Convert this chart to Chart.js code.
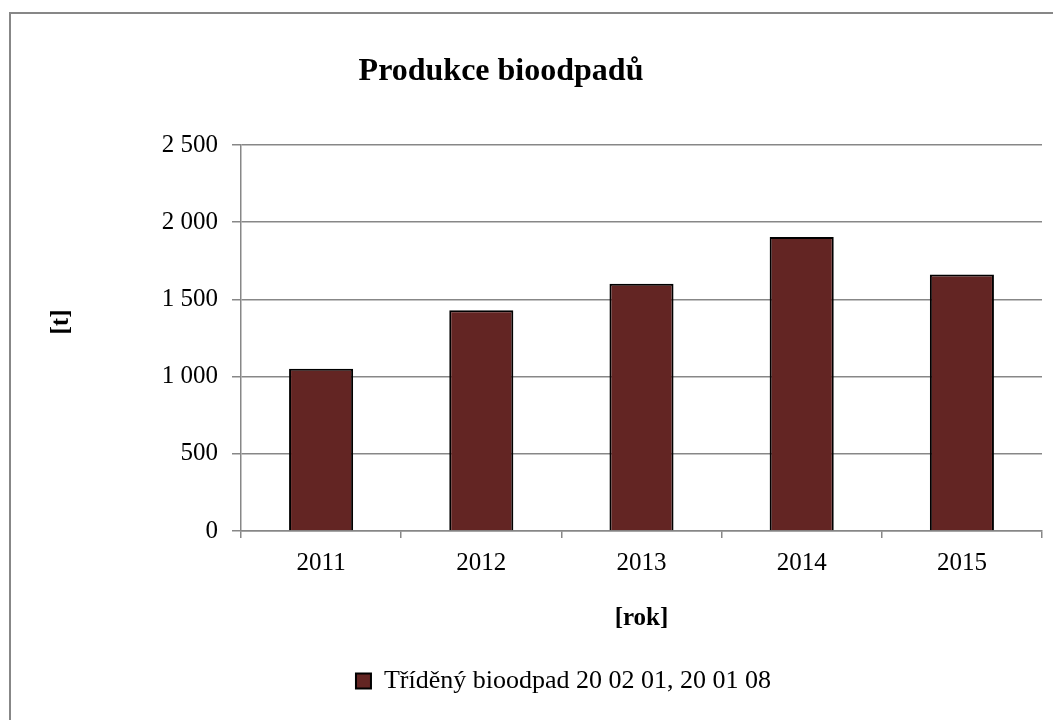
<!DOCTYPE html>
<html>
<head>
<meta charset="utf-8">
<script src="https://cdn.jsdelivr.net/npm/chart.js@4"></script>
<style>
  html, body { margin: 0; padding: 0; background: #fff; overflow: hidden; }
  #wrap { position: relative; width: 1053px; height: 720px; }
  #frame { position: absolute; left: 9px; top: 12px; width: 1200px; height: 900px; border: 2px solid #878787; }
  #myChart { position: absolute; left: 0; top: 0; }
</style>
</head>
<body>
<div id="wrap">
  <div id="frame"></div>
  <canvas id="myChart" width="1053" height="720"></canvas>
</div>
<script>
const years = ["2011", "2012", "2013", "2014", "2015"];
const bioWaste = [1051, 1429, 1602, 1904, 1662];
const seriesName = "Tříděný bioodpad 20 02 01, 20 01 08";
const chartTitle = "Produkce bioodpadů";
const yLabel = "[t]";
const xLabel = "[rok]";

const serif = "'Liberation Serif', 'Times New Roman', serif";
const gridGray = "#878787";

// title and y label are drawn by hand, the original puts them off-centre
const textPlugin = {
  id: "textPlugin",
  afterDraw(chart) {
    const c = chart.ctx;
    c.save();
    c.fillStyle = "#000";
    c.font = "bold 32px " + serif;
    c.textAlign = "center";
    c.textBaseline = "alphabetic";
    c.fillText(chartTitle, 501, 80);
    c.translate(62, 322);
    c.rotate(-Math.PI / 2);
    c.font = "bold 25px " + serif;
    c.textBaseline = "middle";
    c.fillText(yLabel, 0, 0);
    c.restore();
  },
};

const ctx = document.getElementById("myChart");
const myChart = new Chart(ctx, {
  type: "bar",
  data: {
    labels: years,
    datasets: [
      {
        label: seriesName,
        data: bioWaste,
        backgroundColor: "#632523",
        borderColor: "#000",
        borderWidth: 2,
        categoryPercentage: 0.5,
        barPercentage: 0.8,
      },
    ],
  },
  options: {
    responsive: false,
    animation: false,
    layout: {
      padding: { top: 145, left: 85, right: 11, bottom: 16 },
    },
    plugins: {
      title: { display: false },
      tooltip: { enabled: false },
      legend: {
        position: "bottom",
        labels: {
          boxWidth: 15,
          boxHeight: 15,
          padding: 18,
          color: "#000",
          font: { family: serif, size: 26 },
        },
      },
    },
    scales: {
      x: {
        afterFit(scale) {
          scale.height = 119;
        },
        grid: {
          drawOnChartArea: false,
          drawTicks: true,
          tickLength: 7,
          color: gridGray,
          lineWidth: 1.5,
        },
        border: { color: gridGray, width: 1.5 },
        ticks: {
          padding: 10,
          color: "#000",
          font: { family: serif, size: 25 },
        },
        title: {
          display: true,
          text: xLabel,
          color: "#000",
          font: { family: serif, size: 25, weight: "bold" },
          padding: { top: 0, bottom: 16 },
        },
      },
      y: {
        min: 0,
        max: 2500,
        afterFit(scale) {
          scale.width = 156;
        },
        grid: {
          color: gridGray,
          lineWidth: 1.5,
          tickLength: 9,
        },
        border: { color: gridGray, width: 1.5 },
        ticks: {
          stepSize: 500,
          padding: 14,
          color: "#000",
          font: { family: serif, size: 25 },
          callback: (v) => String(v).replace(/\B(?=(\d{3})+(?!\d))/g, " "),
        },
      },
    },
  },
  plugins: [textPlugin],
});
</script>
</body>
</html>
